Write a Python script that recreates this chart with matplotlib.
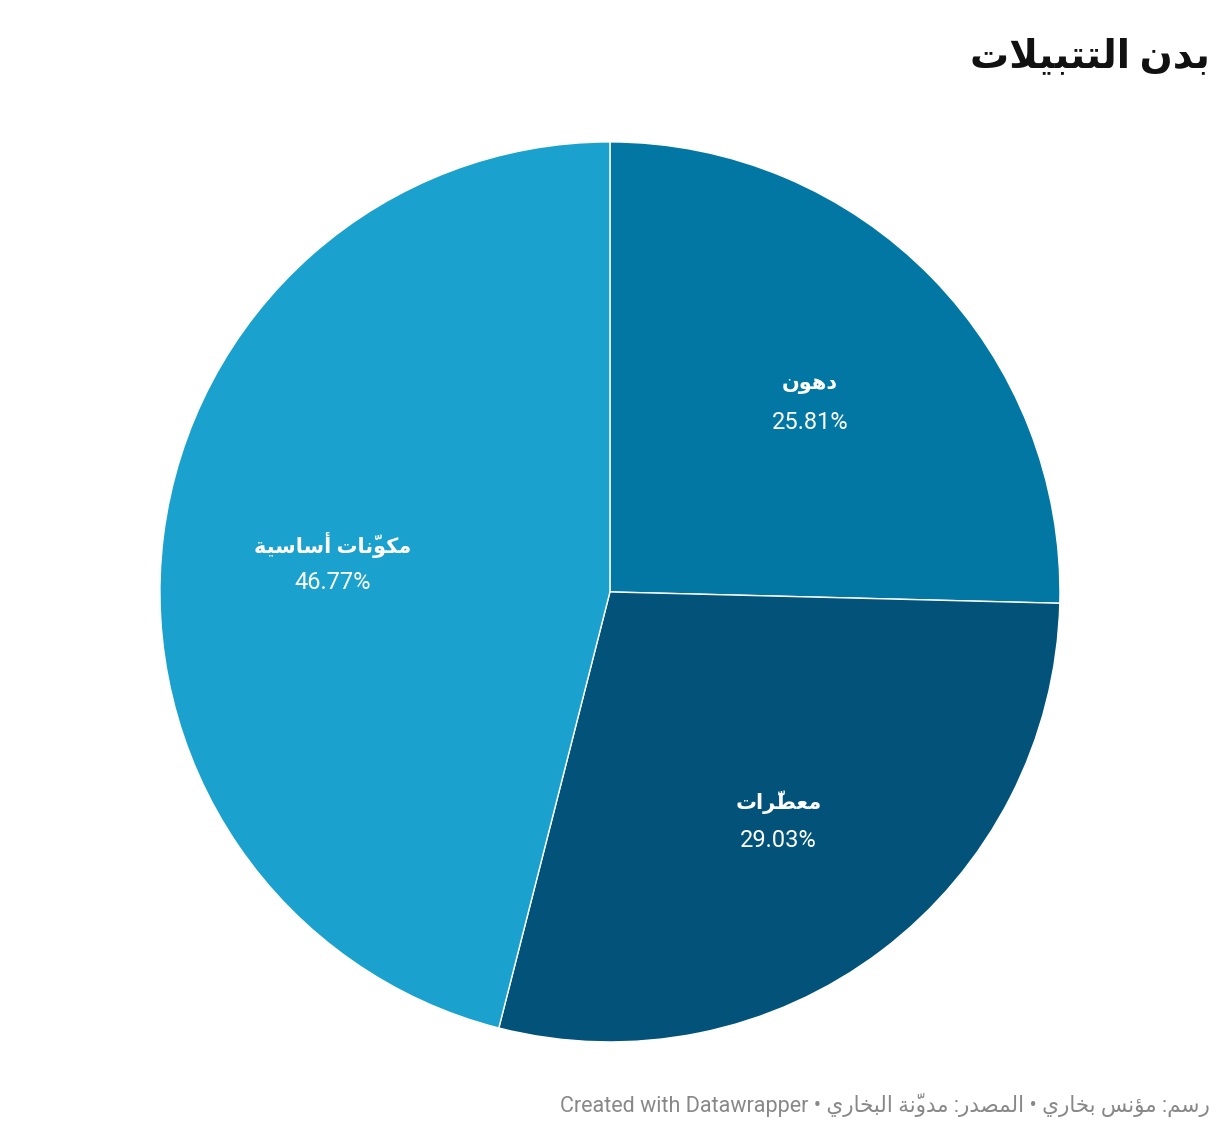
import matplotlib
matplotlib.use('Agg')
import matplotlib.pyplot as plt
import numpy as np

# data
labels = ['دهون', 'معطّرات', 'مكوّنات أساسية']
shares = [25.81, 29.03, 46.77]
colors = ['#0377a3', '#02527a', '#1aa1cd']

title = 'بدن التتبيلات'
footer_ar = 'رسم: مؤنس بخاري • المصدر: مدوّنة البخاري • '
footer_en = 'Created with Datawrapper'

# matplotlib has no arabic shaping -> small reshaper to presentation forms
forms = {
    'ا': (0xFE8D, 0xFE8E), 'أ': (0xFE83, 0xFE84), 'د': (0xFEA9, 0xFEAA),
    'ر': (0xFEAD, 0xFEAE), 'و': (0xFEED, 0xFEEE), 'ؤ': (0xFE85, 0xFE86),
    'ة': (0xFE93, 0xFE94),
    'ب': (0xFE8F, 0xFE90, 0xFE91, 0xFE92), 'ت': (0xFE95, 0xFE96, 0xFE97, 0xFE98),
    'خ': (0xFEA5, 0xFEA6, 0xFEA7, 0xFEA8), 'س': (0xFEB1, 0xFEB2, 0xFEB3, 0xFEB4),
    'ص': (0xFEB9, 0xFEBA, 0xFEBB, 0xFEBC), 'ط': (0xFEC1, 0xFEC2, 0xFEC3, 0xFEC4),
    'ع': (0xFEC9, 0xFECA, 0xFECB, 0xFECC), 'ك': (0xFED9, 0xFEDA, 0xFEDB, 0xFEDC),
    'ل': (0xFEDD, 0xFEDE, 0xFEDF, 0xFEE0), 'م': (0xFEE1, 0xFEE2, 0xFEE3, 0xFEE4),
    'ن': (0xFEE5, 0xFEE6, 0xFEE7, 0xFEE8), 'ه': (0xFEE9, 0xFEEA, 0xFEEB, 0xFEEC),
    'ي': (0xFEF1, 0xFEF2, 0xFEF3, 0xFEF4),
}
lam_alef = {'ا': (0xFEFB, 0xFEFC), 'أ': (0xFEF7, 0xFEF8)}
MARKS = '\u0651'


def shape(s):
    chars = list(s)
    n = len(chars)

    def neighbour(i, step):
        j = i + step
        while 0 <= j < n and chars[j] in MARKS:
            j += step
        return j if 0 <= j < n else None

    groups = []
    i = 0
    while i < n:
        c = chars[i]
        if c in MARKS:
            # mark drawn before its base in visual order (zero advance)
            groups[-1] = c + groups[-1]
            i += 1
            continue
        if c not in forms:
            groups.append(c)
            i += 1
            continue
        p = neighbour(i, -1)
        jp = p is not None and chars[p] in forms and len(forms[chars[p]]) == 4
        nx = neighbour(i, 1)
        if c == 'ل' and nx is not None and chars[nx] in lam_alef:
            groups.append(chr(lam_alef[chars[nx]][1 if jp else 0]))
            i = nx + 1
            continue
        jn = len(forms[c]) == 4 and nx is not None and chars[nx] in forms
        f = forms[c]
        if jp and jn:
            g = f[3]
        elif jp:
            g = f[1]
        elif jn:
            g = f[2]
        else:
            g = f[0]
        groups.append(chr(g))
        i += 1
    return ''.join(groups[::-1])


plt.rcParams['font.family'] = ['Roboto', 'DejaVu Sans']

fig = plt.figure(figsize=(12.2, 11.38), dpi=100)
ax = fig.add_axes([0.1311, 0.0844, 0.7377, 0.7909])

wedges, _ = ax.pie(shares, colors=colors, startangle=90, counterclock=False,
                   radius=1, wedgeprops=dict(edgecolor='white', linewidth=1))
ax.set_xlim(-1, 1)
ax.set_ylim(-1, 1)
ax.set_aspect('equal')
ax.axis('off')

for w, lab, pct in zip(wedges, labels, shares):
    ang = np.deg2rad((w.theta1 + w.theta2) / 2)
    x, y = 0.62 * np.cos(ang), 0.62 * np.sin(ang)
    ax.annotate(shape(lab), (x, y), xytext=(0, 9), textcoords='offset points',
                ha='center', va='center', color='white', fontsize=15, fontweight='bold')
    ax.annotate(f'{pct:.2f}%', (x, y), xytext=(0, -18.5), textcoords='offset points',
                ha='center', va='center', color='white', fontsize=17)

fig.text(1210 / 1220, 1 - 57 / 1138, shape(title), ha='right', va='center',
         fontsize=28, fontweight='bold', color='#111111')
fig.text(1210 / 1220, 1 - 1105 / 1138, footer_en + shape(footer_ar), ha='right',
         va='center', fontsize=15.5, color='#888888')

fig.savefig('out.png', dpi=100)
